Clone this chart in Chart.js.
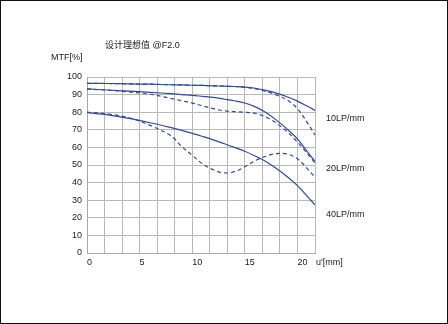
<!DOCTYPE html>
<html>
<head>
<meta charset="utf-8">
<script src="https://cdn.jsdelivr.net/npm/chart.js@4"></script>
<style>
  html, body { margin: 0; padding: 0; background: #fff; }
  #wrap { width: 448px; height: 324px; box-sizing: border-box; border: 1px solid #111; }
  canvas { display: block; }
</style>
</head>
<body>
<div id="wrap"><canvas id="mtf" width="446" height="322"></canvas></div>
<script>
'use strict';

// image height u' [mm]
const u = [0, 2, 4, 6, 8, 9, 10, 11, 12, 13, 14, 15, 16, 17, 18, 19, 20, 21, 21.67];

// MTF [%], solid = sagittal, dashed = meridional
const mtf10S = [96.4, 96.3, 96.1, 95.9, 95.6, 95.5, 95.3, 95.2, 95.0, 94.8, 94.6, 94.3, 93.6, 92.4, 90.8, 88.8, 86.3, 83.2, 81.0];
const mtf10M = [96.4, 96.3, 96.1, 95.9, 95.6, 95.5, 95.3, 95.2, 95.0, 94.8, 94.6, 94.2, 93.3, 91.8, 89.8, 87.0, 82.0, 73.5, 67.0];
const mtf20S = [93.2, 92.6, 92.0, 91.3, 90.5, 90.0, 89.6, 89.0, 88.4, 87.5, 86.5, 85.2, 83.0, 79.8, 75.5, 70.5, 64.8, 57.0, 52.0];
const mtf20M = [93.2, 92.5, 91.5, 90.2, 87.8, 86.5, 85.2, 83.6, 82.0, 80.8, 80.3, 80.0, 79.3, 77.3, 73.8, 69.0, 63.0, 56.0, 51.0];
const mtf40S = [79.7, 78.5, 76.5, 74.0, 71.2, 69.7, 68.0, 66.2, 64.3, 62.2, 60.0, 57.8, 55.0, 52.0, 48.0, 43.5, 38.3, 31.8, 27.3];
const mtf40M = [80.0, 79.0, 76.8, 72.5, 66.5, 60.5, 55.5, 50.5, 47.3, 45.5, 46.2, 49.0, 52.5, 55.0, 56.5, 56.3, 53.5, 47.5, 43.0];

const xMax = 65 / 3;      // 13 grid cells of 5/3 mm
const xStep = 5 / 3;
const xLabels = ['0', '5', '10', '15', '20'];
const yTicks = [0, 10, 20, 30, 40, 50, 60, 70, 80, 90, 100];

const lineColor = '#2f4b9c';
const font = "'Liberation Sans', Arial, 'Noto Sans CJK SC', sans-serif";

function pts(ys) {
    return ys.map((y, i) => ({ x: u[i], y: y }));
}

function series(ys, dashed) {
    return {
        data: pts(ys),
        borderColor: lineColor,
        borderWidth: 1.2,
        borderDash: dashed ? [4, 3] : [],
        pointRadius: 0,
        fill: false,
        tension: 0.35
    };
}

const textPlugin = {
    id: 'texts',
    afterDraw(chart) {
        const c = chart.ctx;
        c.save();
        c.fillStyle = '#1a1a1a';
        c.font = '9px ' + font;
        c.textAlign = 'left';
        c.textBaseline = 'middle';
        c.fillText('设计理想值 @F2.0', 104, 44.5);
        c.fillText('MTF[%]', 50, 56.5);
        c.fillText('10LP/mm', 325, 117.5);
        c.fillText('20LP/mm', 325, 167.5);
        c.fillText('40LP/mm', 325, 213.5);
        c.fillText("u'[mm]", 315, 262);
        c.restore();
    }
};

new Chart(document.getElementById('mtf').getContext('2d'), {
    type: 'line',
    data: {
        datasets: [
            series(mtf10S, false),
            series(mtf10M, true),
            series(mtf20S, false),
            series(mtf20M, true),
            series(mtf40S, false),
            series(mtf40M, true)
        ]
    },
    options: {
        responsive: false,
        animation: false,
        layout: { padding: { left: 46, right: 132, top: 76, bottom: 50 } },
        plugins: { legend: { display: false }, tooltip: { enabled: false } },
        scales: {
            x: {
                type: 'linear',
                min: 0,
                max: xMax,
                afterBuildTicks(scale) {
                    const t = [];
                    for (let k = 0; k <= 13; k++) t.push({ value: k * xStep });
                    scale.ticks = t;
                },
                afterFit(scale) { scale.height = 20; },
                grid: { color: '#b8b8b8', lineWidth: 1, drawTicks: false },
                border: { color: '#a8a8a8' },
                ticks: {
                    autoSkip: false,
                    maxRotation: 0,
                    align: 'start',
                    padding: 4,
                    color: '#1a1a1a',
                    font: { family: font, size: 9 },
                    callback: (v, i) => (i % 3 === 0 ? xLabels[i / 3] : '')
                }
            },
            y: {
                min: 0,
                max: 100,
                afterBuildTicks(scale) {
                    scale.ticks = yTicks.map(v => ({ value: v }));
                },
                afterFit(scale) { scale.width = 40; },
                grid: { color: '#b8b8b8', lineWidth: 1, drawTicks: false },
                border: { color: '#a8a8a8' },
                ticks: {
                    padding: 5,
                    color: '#1a1a1a',
                    font: { family: font, size: 9 }
                }
            }
        }
    },
    plugins: [textPlugin]
});
</script>
</body>
</html>
